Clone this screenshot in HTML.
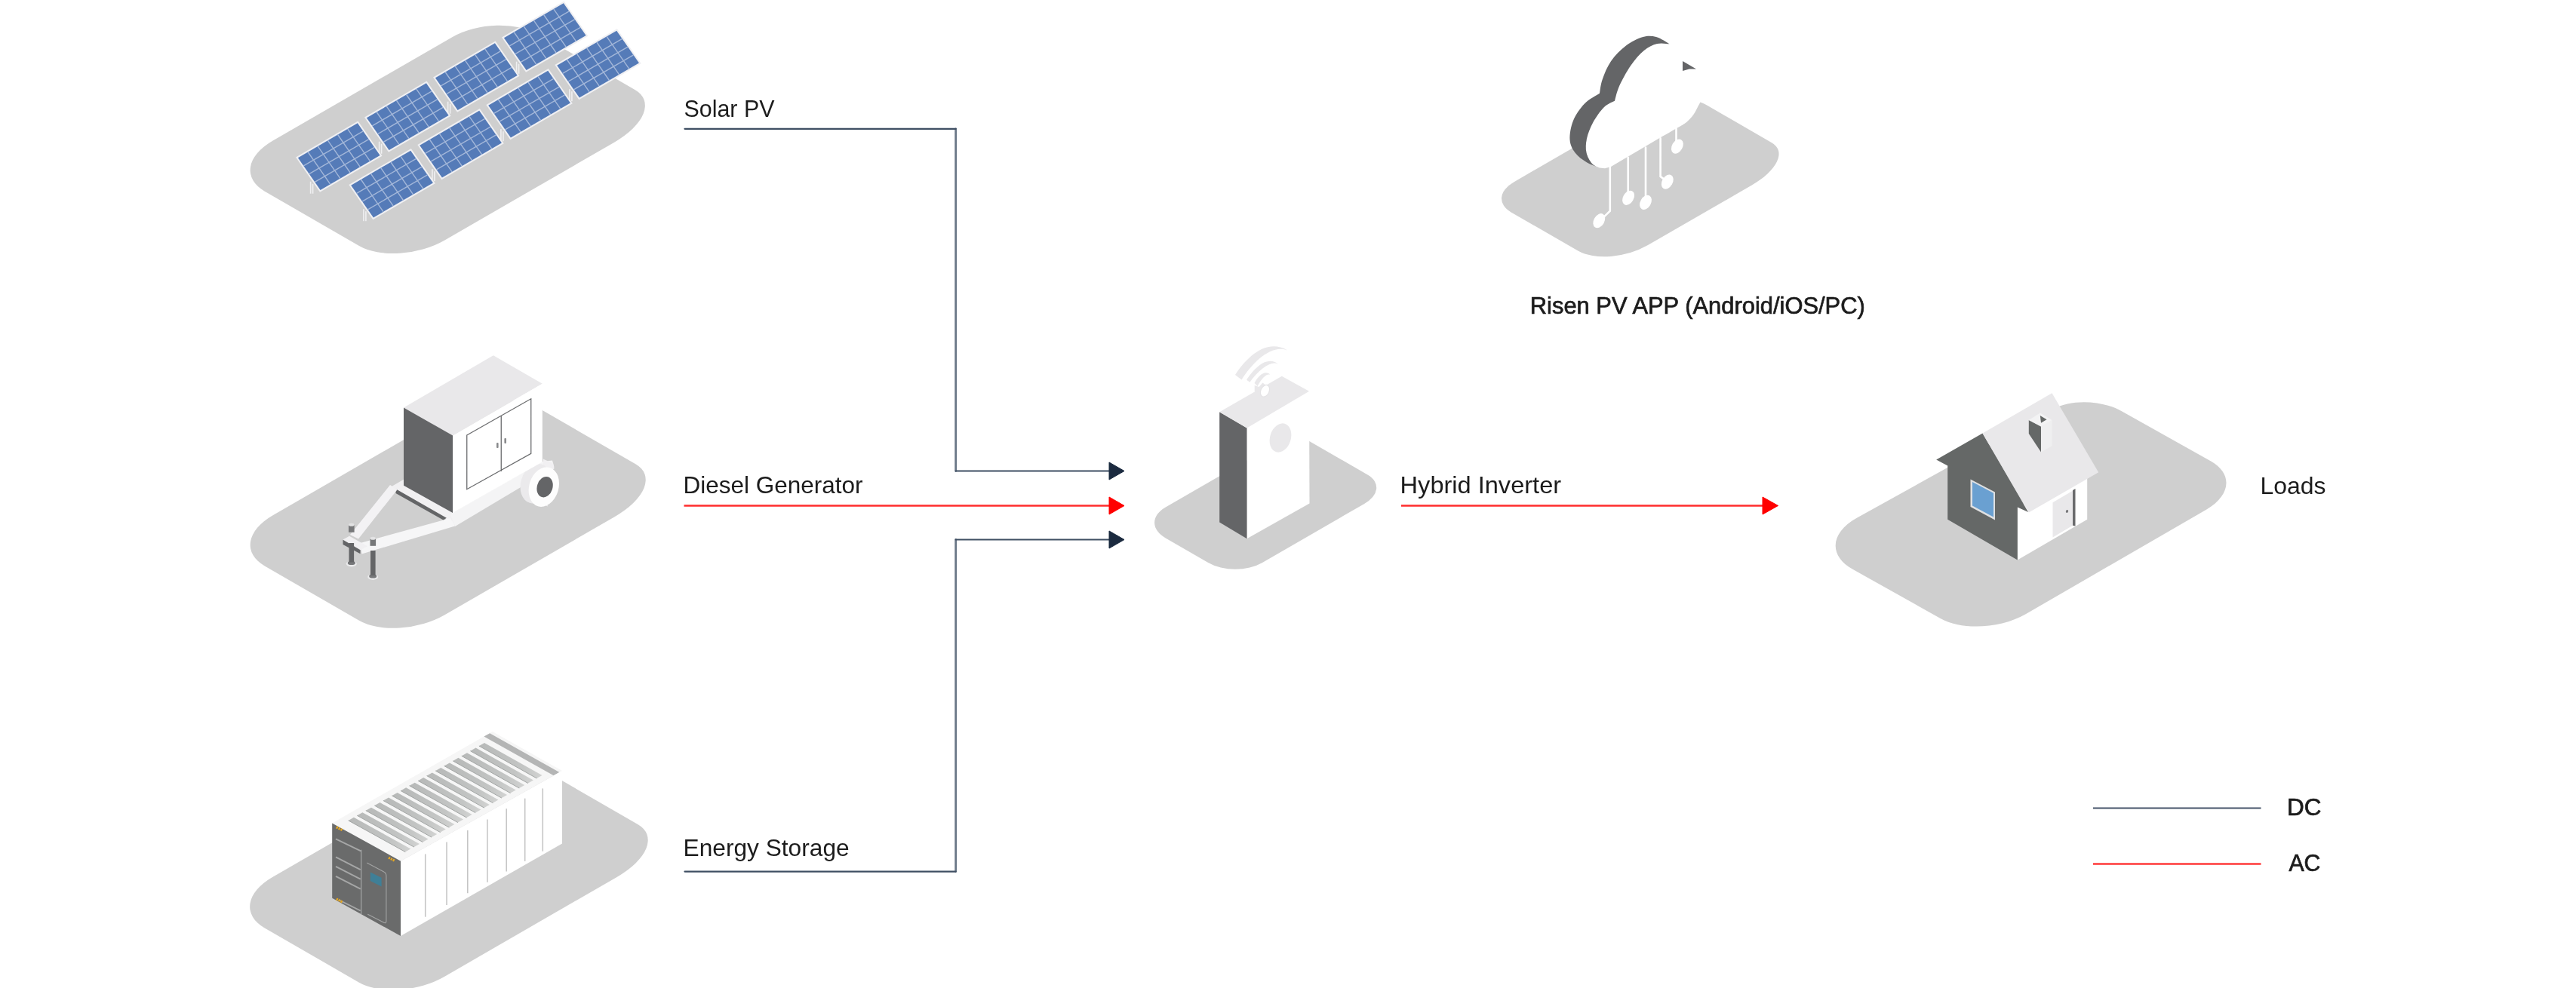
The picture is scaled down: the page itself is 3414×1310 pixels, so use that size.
<!DOCTYPE html>
<html lang="en">
<head>
<meta charset="utf-8">
<title>Hybrid inverter system diagram</title>
<style>
html,body{margin:0;padding:0;background:#ffffff;}
body{width:3414px;height:1310px;overflow:hidden;font-family:"Liberation Sans",sans-serif;}
svg{display:block;will-change:transform;}
</style>
</head>
<body>
<svg width="3414" height="1310" viewBox="0 0 3414 1310">
<defs>
<linearGradient id="roofg" x1="0" y1="0" x2="1" y2="0"><stop offset="0" stop-color="#b7b9b8"/><stop offset="0.7" stop-color="#c3c5c4"/><stop offset="1" stop-color="#d2d3d2"/></linearGradient>
</defs>
<rect width="3414" height="1310" fill="#ffffff"/>
<g id="platforms">
<path d="M73 0 L348 0 A70 64 0 0 1 418 64 L418 209.5 A86 54 0 0 1 332 263.5 L73 263.5 A73 58 0 0 1 0 205.5 L0 61 A73 61 0 0 1 73 0Z" fill="#cfcfcf" transform="matrix(0.866 -0.5 0.866 0.5 298 223.2)"/>
<path d="M73 0 L349 0 A70 64 0 0 1 419 64 L419 209.5 A86 54 0 0 1 333 263.5 L73 263.5 A73 58 0 0 1 0 205.5 L0 61 A73 61 0 0 1 73 0Z" fill="#cfcfcf" transform="matrix(0.866 -0.5 0.866 0.5 298 720)"/>
<path d="M73 0 L353 0 A70 64 0 0 1 423 64 L423 209.5 A86 54 0 0 1 337 263.5 L73 263.5 A73 58 0 0 1 0 205.5 L0 61 A73 61 0 0 1 73 0Z" fill="#cfcfcf" transform="matrix(0.866 -0.5 0.866 0.5 297.5 1199.7)"/>
<path d="M42 0 L241.6 0 A50 45 0 0 1 291.6 45 L291.6 145.3 A72 41 0 0 1 219.6 186.3 L61 186.3 A61 46 0 0 1 0 140.3 L0 38 A42 38 0 0 1 42 0Z" fill="#cfcfcf" transform="matrix(0.866 -0.5 0.866 0.5 1969.8 262.4)"/>
<path d="M41 0 L198.5 0 A40 18 0 0 1 238.5 18 L238.5 111.6 A41 36 0 0 1 197.5 147.6 L41 147.6 A41 41 0 0 1 0 106.6 L0 41 A41 41 0 0 1 41 0Z" fill="#cfcfcf" transform="matrix(0.866 -0.5 0.866 0.5 1509.3 692.9)"/>
<path d="M2460.8 686.7L2721.6 542.1C2745.3 529 2786 530.5 2812.4 545.4L2930.1 611.6C2959.5 628.1 2956.8 656.9 2924 675.8L2684.7 814.2C2651.2 833.5 2600.7 836.1 2571.7 819.9L2455.4 754.8C2423.1 736.7 2425.5 706.3 2460.8 686.7Z" fill="#cfcfcf"/>
</g>
<g id="solar">
<rect x="683.8" y="81.7" width="1.6" height="16" fill="#efeff1"/>
<rect x="686.8" y="84.7" width="1.6" height="13" fill="#efeff1"/>
<polygon points="665,49.5 747.5,1.5 779.5,47.7 697,95.7" fill="#f0f0f3"/>
<polygon points="667.9,50.2 746.9,4.2 776.6,47 697.6,93" fill="#557bb8"/>
<path d="M681.1 42.5L710.8 85.4M694.2 34.8L723.9 77.7M707.4 27.2L737.1 70M720.6 19.5L750.3 62.4M733.7 11.8L763.4 54.7M675.3 60.9L754.3 14.9M682.7 71.6L761.8 25.6M690.2 82.3L769.2 36.3" stroke="#a3b7d9" stroke-width="1.4" fill="none"/>
<rect x="592.8" y="134.7" width="1.6" height="16" fill="#efeff1"/>
<rect x="595.8" y="137.7" width="1.6" height="13" fill="#efeff1"/>
<polygon points="574,102.5 656.5,54.5 688.5,100.7 606,148.7" fill="#f0f0f3"/>
<polygon points="576.9,103.2 655.9,57.2 685.6,100 606.6,146" fill="#557bb8"/>
<path d="M590.1 95.5L619.8 138.4M603.2 87.8L632.9 130.7M616.4 80.2L646.1 123M629.6 72.5L659.3 115.4M642.7 64.8L672.4 107.7M584.3 113.9L663.3 67.9M591.7 124.6L670.8 78.6M599.2 135.3L678.2 89.3" stroke="#a3b7d9" stroke-width="1.4" fill="none"/>
<rect x="501.8" y="187.7" width="1.6" height="16" fill="#efeff1"/>
<rect x="504.8" y="190.7" width="1.6" height="13" fill="#efeff1"/>
<polygon points="483,155.5 565.5,107.5 597.5,153.7 515,201.7" fill="#f0f0f3"/>
<polygon points="485.9,156.2 564.9,110.2 594.6,153 515.6,199" fill="#557bb8"/>
<path d="M499.1 148.5L528.8 191.4M512.2 140.8L541.9 183.7M525.4 133.2L555.1 176M538.6 125.5L568.3 168.4M551.7 117.8L581.4 160.7M493.3 166.9L572.3 120.9M500.7 177.6L579.8 131.6M508.2 188.3L587.2 142.3" stroke="#a3b7d9" stroke-width="1.4" fill="none"/>
<rect x="410.8" y="240.7" width="1.6" height="16" fill="#efeff1"/>
<rect x="413.8" y="243.7" width="1.6" height="13" fill="#efeff1"/>
<polygon points="392,208.5 474.5,160.5 506.5,206.7 424,254.7" fill="#f0f0f3"/>
<polygon points="394.9,209.2 473.9,163.2 503.6,206 424.6,252" fill="#557bb8"/>
<path d="M408.1 201.5L437.8 244.4M421.2 193.8L450.9 236.7M434.4 186.2L464.1 229M447.6 178.5L477.3 221.4M460.7 170.8L490.4 213.7M402.3 219.9L481.3 173.9M409.7 230.6L488.8 184.6M417.2 241.3L496.2 195.3" stroke="#a3b7d9" stroke-width="1.4" fill="none"/>
<rect x="754.1" y="118.2" width="1.6" height="16" fill="#efeff1"/>
<rect x="757.1" y="121.2" width="1.6" height="13" fill="#efeff1"/>
<polygon points="735.3,86 817.8,38 849.8,84.2 767.3,132.2" fill="#f0f0f3"/>
<polygon points="738.2,86.7 817.2,40.7 846.9,83.5 767.9,129.5" fill="#557bb8"/>
<path d="M751.4 79L781.1 121.9M764.5 71.3L794.2 114.2M777.7 63.7L807.4 106.5M790.9 56L820.6 98.9M804 48.3L833.7 91.2M745.6 97.4L824.6 51.4M753 108.1L832.1 62.1M760.5 118.8L839.5 72.8" stroke="#a3b7d9" stroke-width="1.4" fill="none"/>
<rect x="663.1" y="171.2" width="1.6" height="16" fill="#efeff1"/>
<rect x="666.1" y="174.2" width="1.6" height="13" fill="#efeff1"/>
<polygon points="644.3,139 726.8,91 758.8,137.2 676.3,185.2" fill="#f0f0f3"/>
<polygon points="647.2,139.7 726.2,93.7 755.9,136.5 676.9,182.5" fill="#557bb8"/>
<path d="M660.4 132L690.1 174.9M673.5 124.3L703.2 167.2M686.7 116.7L716.4 159.5M699.9 109L729.6 151.9M713 101.3L742.7 144.2M654.6 150.4L733.6 104.4M662 161.1L741.1 115.1M669.5 171.8L748.5 125.8" stroke="#a3b7d9" stroke-width="1.4" fill="none"/>
<rect x="572.1" y="224.2" width="1.6" height="16" fill="#efeff1"/>
<rect x="575.1" y="227.2" width="1.6" height="13" fill="#efeff1"/>
<polygon points="553.3,192 635.8,144 667.8,190.2 585.3,238.2" fill="#f0f0f3"/>
<polygon points="556.2,192.7 635.2,146.7 664.9,189.5 585.9,235.5" fill="#557bb8"/>
<path d="M569.4 185L599.1 227.9M582.5 177.3L612.2 220.2M595.7 169.7L625.4 212.5M608.9 162L638.6 204.9M622 154.3L651.7 197.2M563.6 203.4L642.6 157.4M571 214.1L650.1 168.1M578.5 224.8L657.5 178.8" stroke="#a3b7d9" stroke-width="1.4" fill="none"/>
<rect x="481.1" y="277.2" width="1.6" height="16" fill="#efeff1"/>
<rect x="484.1" y="280.2" width="1.6" height="13" fill="#efeff1"/>
<polygon points="462.3,245 544.8,197 576.8,243.2 494.3,291.2" fill="#f0f0f3"/>
<polygon points="465.2,245.7 544.2,199.7 573.9,242.5 494.9,288.5" fill="#557bb8"/>
<path d="M478.4 238L508.1 280.9M491.5 230.3L521.2 273.2M504.7 222.7L534.4 265.5M517.9 215L547.6 257.9M531 207.3L560.7 250.2M472.6 256.4L551.6 210.4M480 267.1L559.1 221.1M487.5 277.8L566.5 231.8" stroke="#a3b7d9" stroke-width="1.4" fill="none"/>
</g>
<g id="generator">
<polygon points="519,645 536.2,635 602.5,675 602.5,698 590,688" fill="#f1f0f2"/>
<polygon points="524.5,648.2 591.8,686.8 587.5,689.5 524.5,654" fill="#646567"/>
<polygon points="517,643 526.5,649.2 475,714.5 464,709" fill="#f3f2f4"/>
<polygon points="477.5,720 597,687 603,697.5 479.5,734.5" fill="#f6f6f7"/>
<polygon points="597,682.5 600,679.5 718.8,612 732,610.5 734.5,619.5 603,698" fill="#f4f4f5"/>
<polygon points="454.5,715.5 463,710.8 487,724.2 477.5,729.2" fill="#f1f0f2"/>
<polygon points="454.5,715.8 477.5,729.2 477.5,734.2 454.5,722" fill="#646567"/>
<ellipse cx="465.8" cy="747.6" rx="7" ry="3.9" fill="#ebebec" transform="rotate(0 465.8 747.6)"/>
<ellipse cx="465.8" cy="746.4" rx="5" ry="2.6" fill="#77787a" transform="rotate(0 465.8 746.4)"/>
<rect x="462.5" y="720" width="6.6" height="25.5" fill="#646567"/>
<rect x="462" y="695.8" width="7.6" height="10" fill="#77787a"/>
<ellipse cx="465.8" cy="695.8" rx="3.8" ry="2" fill="#e2e2e3" transform="rotate(0 465.8 695.8)"/>
<ellipse cx="494.2" cy="765.1" rx="7" ry="3.9" fill="#ebebec" transform="rotate(0 494.2 765.1)"/>
<ellipse cx="494.2" cy="763.9" rx="5" ry="2.6" fill="#77787a" transform="rotate(0 494.2 763.9)"/>
<rect x="491" y="730" width="6.6" height="33" fill="#646567"/>
<rect x="490.5" y="713.8" width="7.6" height="10" fill="#77787a"/>
<ellipse cx="494.2" cy="713.8" rx="3.8" ry="2" fill="#e2e2e3" transform="rotate(0 494.2 713.8)"/>
<polygon points="719.8,608.5 733,614.5 734.5,621.5 728,625 719.8,619" fill="#f1f0f2"/>
<ellipse cx="709.8" cy="641.2" rx="19.5" ry="26.8" fill="#ebeaec" transform="rotate(17 709.8 641.2)"/>
<polygon points="704,615.5 715,620 726,671.5 715,667" fill="#ebeaec"/>
<ellipse cx="720.8" cy="645.7" rx="19.5" ry="26.8" fill="#fdfdfd" transform="rotate(17 720.8 645.7)"/>
<ellipse cx="722.1" cy="645.7" rx="10.3" ry="14" fill="#646567" transform="rotate(17 722.1 645.7)"/>
<polygon points="535,540.5 653.8,471.2 718.8,508.8 600,577.5" fill="#e9e8ea"/>
<polygon points="535,540.5 600,577.5 600,680 535,643.8" fill="#646567"/>
<polygon points="600,577.5 718.8,508.8 718.8,612.5 600,680" fill="#ffffff"/>
<path d="M618.75 577L703.75 528.75L703.75 601.25L618.75 648.75ZM664.25 551.25L664.25 625" stroke="#6b6c6e" stroke-width="1.3" fill="none"/>
<rect x="658" y="587" width="2.6" height="7" rx="1" fill="#8a8b8d"/>
<rect x="668.4" y="581" width="2.6" height="7" rx="1" fill="#8a8b8d"/>
</g>
<g id="container">
<polygon points="440.2,1091.5 652.7,970.1 745,1022 531,1141.7" fill="#f6f6f6"/>
<polygon points="461.7,1087.9 468.9,1083.8 544.3,1125.6 537.2,1129.6" fill="url(#roofg)"/>
<polygon points="473.3,1081.3 480.4,1077.2 556,1119.1 548.8,1123.1" fill="url(#roofg)"/>
<polygon points="484.8,1074.7 492,1070.7 567.6,1112.6 560.4,1116.6" fill="url(#roofg)"/>
<polygon points="496.4,1068.1 503.5,1064.1 579.2,1106.1 572,1110.1" fill="url(#roofg)"/>
<polygon points="507.9,1061.5 515,1057.5 590.8,1099.6 583.6,1103.6" fill="url(#roofg)"/>
<polygon points="519.5,1055 526.6,1050.9 602.4,1093.1 595.3,1097.1" fill="url(#roofg)"/>
<polygon points="531,1048.4 538.1,1044.3 614,1086.6 606.9,1090.6" fill="url(#roofg)"/>
<polygon points="542.6,1041.8 549.7,1037.7 625.6,1080.1 618.5,1084.1" fill="url(#roofg)"/>
<polygon points="554.1,1035.2 561.2,1031.1 637.3,1073.6 630.1,1077.6" fill="url(#roofg)"/>
<polygon points="565.6,1028.6 572.8,1024.6 648.9,1067.1 641.7,1071.1" fill="url(#roofg)"/>
<polygon points="577.2,1022 584.3,1018 660.5,1060.6 653.3,1064.6" fill="url(#roofg)"/>
<polygon points="588.7,1015.5 595.9,1011.4 672.1,1054 664.9,1058.1" fill="url(#roofg)"/>
<polygon points="600.3,1008.9 607.4,1004.8 683.7,1047.5 676.5,1051.6" fill="url(#roofg)"/>
<polygon points="611.8,1002.3 619,998.2 695.3,1041 688.2,1045" fill="url(#roofg)"/>
<polygon points="623.4,995.7 630.5,991.6 706.9,1034.5 699.8,1038.5" fill="url(#roofg)"/>
<polygon points="634.9,989.1 642,985.1 718.5,1028 711.4,1032" fill="url(#roofg)"/>
<path d="M461.7 1087.9L537.2 1129.6M473.3 1081.3L548.8 1123.1M484.8 1074.7L560.4 1116.6M496.4 1068.1L572 1110.1M507.9 1061.5L583.6 1103.6M519.5 1055L595.3 1097.1M531 1048.4L606.9 1090.6M542.6 1041.8L618.5 1084.1M554.1 1035.2L630.1 1077.6M565.6 1028.6L641.7 1071.1M577.2 1022L653.3 1064.6M588.7 1015.5L664.9 1058.1M600.3 1008.9L676.5 1051.6M611.8 1002.3L688.2 1045M623.4 995.7L699.8 1038.5M634.9 989.1L711.4 1032" stroke="#a2a5a4" stroke-width="1" fill="none"/>
<polygon points="641.4,976.5 649.1,972.2 741.4,1024 733.7,1028.3" fill="#b4b5b5"/>
<polygon points="440.2,1091.5 531,1141.7 531,1241 440.2,1190.8" fill="#6a6b6b"/>
<polygon points="531,1141.7 745,1022 745,1118.5 531,1241" fill="#ffffff"/>
<line x1="563.7" y1="1132.4" x2="563.7" y2="1215.7" stroke="#c3c3c3" stroke-width="1.5"/>
<line x1="592" y1="1116.6" x2="592" y2="1199.9" stroke="#c3c3c3" stroke-width="1.5"/>
<line x1="619.8" y1="1101" x2="619.8" y2="1184.3" stroke="#c3c3c3" stroke-width="1.5"/>
<line x1="645.9" y1="1086.4" x2="645.9" y2="1169.7" stroke="#c3c3c3" stroke-width="1.5"/>
<line x1="671.2" y1="1072.3" x2="671.2" y2="1155.6" stroke="#c3c3c3" stroke-width="1.5"/>
<line x1="695.7" y1="1058.6" x2="695.7" y2="1141.9" stroke="#c3c3c3" stroke-width="1.5"/>
<line x1="719.3" y1="1045.4" x2="719.3" y2="1128.7" stroke="#c3c3c3" stroke-width="1.5"/>
<line x1="445" y1="1112.3" x2="478.7" y2="1128.7" stroke="#a6a7a7" stroke-width="1.9"/>
<line x1="445" y1="1136.3" x2="477.7" y2="1153.1" stroke="#a6a7a7" stroke-width="1.9"/>
<line x1="445" y1="1148.8" x2="477.7" y2="1165.6" stroke="#a6a7a7" stroke-width="1.9"/>
<line x1="445" y1="1161.9" x2="477.7" y2="1178.7" stroke="#a6a7a7" stroke-width="1.9"/>
<line x1="448.8" y1="1193.1" x2="477.7" y2="1207.5" stroke="#a6a7a7" stroke-width="1.9"/>
<line x1="478.7" y1="1126.7" x2="478.7" y2="1212.3" stroke="#a6a7a7" stroke-width="1.2"/>
<path d="M486.3 1144L508.8 1156Q511.9 1157.5 511.9 1161.3L511.9 1221Q511.9 1224.8 508.8 1223.3L487.3 1212.3" stroke="#a3a4a4" stroke-width="1.1" fill="none"/>
<polygon points="490.8,1156.5 505.6,1163.8 505.6,1175.4 490.8,1168.1" fill="#3f7f97"/>
<path d="M445.8 1096.8l8 4" stroke="#e5a823" stroke-width="3.2" stroke-dasharray="2.2 1"/>
<path d="M515 1137.2l8 4" stroke="#e5a823" stroke-width="3.2" stroke-dasharray="2.2 1"/>
<path d="M445.8 1192l8 4" stroke="#e5a823" stroke-width="3.2" stroke-dasharray="2.2 1"/>
</g>
<g id="cloud">
<path d="M2212.5 58.2C2209.8 58.2 2201.9 56.5 2196.2 58C2190.6 59.5 2184.6 62.2 2178.8 67C2172.9 71.8 2166.7 79.2 2161.2 87C2155.8 94.8 2149.8 106 2146.2 113.8C2142.7 121.5 2141 130.4 2140 133.8C2137.6 135.2 2130.3 137.7 2125.5 142.5C2120.7 147.3 2115 155.6 2111.2 162.5C2107.5 169.4 2104.5 177.1 2103 183.8C2101.5 190.4 2101.3 197 2102.5 202.5C2103.7 208 2107.1 213.7 2110 217C2112.9 220.3 2118.3 221.6 2120 222.5L2127 223.2L2135 221L2202 181.6C2205.6 179.6 2217.8 172.6 2223.4 169.3C2229 166 2231.9 164.6 2235.5 161.7C2239.1 158.8 2242.2 155.1 2244.7 151.6C2247.2 148.1 2249.1 143.4 2250.7 140.5C2252.2 137.6 2252.9 137.1 2254 134C2255.1 130.9 2257.2 127 2257.5 122C2257.8 117 2257.6 109.7 2256 104C2254.4 98.3 2251.3 92.7 2248 88C2244.7 83.3 2238 78 2236 76Z" fill="#ffffff"/>
<path d="M2120 222.5C2117.1 221.2 2107.9 218.3 2102.5 215C2097.1 211.7 2091.2 207.5 2087.5 202.5C2083.8 197.5 2080.9 192.1 2080.5 185C2080.1 177.9 2081.8 167.9 2085 160C2088.2 152.1 2094.2 143.5 2100 137.5C2105.8 131.5 2116.7 126 2120 123.8C2120.6 120.6 2121.2 112.1 2123.8 105C2126.2 97.9 2129.8 88.7 2135 81.2C2140.2 73.8 2147.9 65.9 2155 60.5C2162.1 55.1 2170.8 50.9 2177.5 49C2184.2 47.1 2189.2 47.5 2195 49C2200.8 50.5 2209.6 56.7 2212.5 58.2C2209.8 58.2 2201.9 56.5 2196.2 58C2190.6 59.5 2184.6 62.2 2178.8 67C2172.9 71.8 2166.7 79.2 2161.2 87C2155.8 94.8 2149.8 106 2146.2 113.8C2142.7 121.5 2141 130.4 2140 133.8C2137.6 135.2 2130.3 137.7 2125.5 142.5C2120.7 147.3 2115 155.6 2111.2 162.5C2107.5 169.4 2104.5 177.1 2103 183.8C2101.5 190.4 2101.3 197 2102.5 202.5C2103.7 208 2107.1 213.7 2110 217C2112.9 220.3 2118.3 221.6 2120 222.5Z" fill="#646567"/>
<polygon points="2230,81 2248,91.5 2238.8,91.5 2230,94" fill="#646567"/>
<path d="M2133.8 219.8L2133.8 279.6L2125.7 287.7M2157.7 208.7L2157.7 255.3M2181 195.5L2181 260.3M2200.6 183.4L2200.6 234L2205.1 237.4M2221.5 170.2L2221.5 187.4" stroke="#ffffff" stroke-width="2.6" fill="none" stroke-linecap="round"/>
<ellipse cx="2119.3" cy="292.7" rx="7" ry="10.3" fill="#ffffff" transform="rotate(30 2119.3 292.7)"/>
<ellipse cx="2158.1" cy="262.3" rx="7" ry="10.3" fill="#ffffff" transform="rotate(30 2158.1 262.3)"/>
<ellipse cx="2181" cy="268.4" rx="7" ry="10.3" fill="#ffffff" transform="rotate(30 2181 268.4)"/>
<ellipse cx="2209.8" cy="241.1" rx="7" ry="10.3" fill="#ffffff" transform="rotate(30 2209.8 241.1)"/>
<ellipse cx="2222.9" cy="194.1" rx="7" ry="10.3" fill="#ffffff" transform="rotate(30 2222.9 194.1)"/>
</g>
<g id="inverter">
<polygon points="1652.5,567.5 1735,518.8 1735.5,667.5 1652.5,714.2" fill="#ffffff"/>
<polygon points="1616.2,546.2 1652.5,567.5 1652.5,714.2 1616.2,692.5" fill="#646567"/>
<polygon points="1616.2,546.2 1698.8,498.8 1735,518.8 1652.5,567.5" fill="#e9e8ea"/>
<ellipse cx="1697" cy="580.5" rx="13.8" ry="19.6" fill="#e9e8ea" transform="rotate(17 1697 580.5)"/>
<path d="M1637 497.1C1650.4 476.4 1677.1 447.3 1706.4 464.5C1685.6 455.8 1660.1 480.1 1645.5 503.4Z" fill="#e9e8ea"/>
<path d="M1652.2 503.7C1661.3 489.8 1678.3 470.4 1694.3 482.7C1684.4 477.6 1668.6 489.8 1656.4 506.8Z" fill="#e9e8ea"/>
<path d="M1662.5 508C1666.7 499.5 1675.9 489.8 1683.4 496.7C1678.3 494.6 1671 503.1 1666.7 511.9Z" fill="#e9e8ea"/>
<polygon points="1662.7,511 1668.6,512.9 1673.4,507.4 1677.1,510.4 1671,520.1 1662.7,518.9" fill="#e9e8ea"/>
<ellipse cx="1676.5" cy="518.3" rx="5.6" ry="8.2" fill="#ffffff" transform="rotate(25 1676.5 518.3)" stroke="#e4e3e5" stroke-width="1.2"/>
</g>
<g id="house">
<polygon points="2673.8,672.5 2766.2,618.8 2766.2,688.8 2673.8,742.5" fill="#ffffff"/>
<polygon points="2720.5,666.2 2747,650.8 2747,696.8 2720.5,712.5" fill="#e9e8ea"/>
<polygon points="2747,650 2750.5,648 2750.5,697.5 2747,696.8" fill="#6a6b6d"/>
<ellipse cx="2739.5" cy="678" rx="1.6" ry="2" fill="#77787a" transform="rotate(20 2739.5 678)"/>
<polygon points="2566.2,609.5 2627.5,574.5 2688,679 2673.8,672.5 2673.8,742.5 2581.2,688.8 2581.2,617.5" fill="#656867"/>
<polygon points="2611.5,635.5 2644,652.5 2644,689.5 2611.5,672" fill="#dfe0e2"/>
<polygon points="2614,639 2642,653.8 2642,685.5 2614,670.5" fill="#6aa0d1"/>
<polygon points="2627.5,574.5 2719.5,521.2 2781.2,626.2 2688.8,679.5" fill="#e9e8ea"/>
<polygon points="2688.8,557 2705,565.5 2705,599.5 2688.8,575" fill="#656867"/>
<polygon points="2705,565.5 2719.5,557 2719.5,591.2 2705,599.5" fill="#efeff0"/>
<polygon points="2688.8,557 2703.8,547.5 2719.5,557 2705,565.5" fill="#f3f3f4"/>
<polygon points="2703.8,551 2712.5,556.2 2705,560.8" fill="#656867"/>
</g>
<g id="wires" fill="none">
<path d="M1266.7 170.8V624.5M1266.7 715.5V1155.6" stroke="#6a7787" stroke-width="2.8" stroke-linecap="round"/>
<path d="M907.5 170.8H1266.7M1266.7 624.5H1471M1266.7 715.5H1471M907.5 1155.6H1266.7" stroke="#3f4f63" stroke-width="2.2" stroke-linecap="round"/>
<path d="M906.5 670.5H1471" stroke="#ff2d2d" stroke-width="2.4"/>
<path d="M1857 670.5H2337" stroke="#ff2d2d" stroke-width="2.4"/>
<path d="M1470 613L1490 624.5L1470 636Z" fill="#1b2a3f" stroke="#1b2a3f" stroke-width="1" stroke-linejoin="round"/>
<path d="M1470 704L1490 715.5L1470 727Z" fill="#1b2a3f" stroke="#1b2a3f" stroke-width="1" stroke-linejoin="round"/>
<path d="M1470 659L1490 670.5L1470 682Z" fill="#ff0000" stroke="#ff0000" stroke-width="1" stroke-linejoin="round"/>
<path d="M2336 659L2356.5 670.5L2336 682Z" fill="#ff0000" stroke="#ff0000" stroke-width="1" stroke-linejoin="round"/>
<path d="M2774 1071.5H2996.5" stroke="#46556a" stroke-width="2.2"/>
<path d="M2774 1145.5H2996.5" stroke="#ff3a3a" stroke-width="2.4"/>
</g>
<g id="labels" font-family="&quot;Liberation Sans&quot;, sans-serif" font-size="30.5" fill="#1c1c1c">
<text x="906.5" y="155.3" textLength="120" lengthAdjust="spacingAndGlyphs">Solar PV</text>
<text x="905.6" y="654.2" textLength="238" lengthAdjust="spacingAndGlyphs">Diesel Generator</text>
<text x="905.6" y="1134.6" textLength="220" lengthAdjust="spacingAndGlyphs">Energy Storage</text>
<text x="1855.6" y="654.2" textLength="213.5" lengthAdjust="spacingAndGlyphs">Hybrid Inverter</text>
<text x="2995.6" y="654.5" textLength="87" lengthAdjust="spacingAndGlyphs">Loads</text>
<text x="2027.8" y="415.5" textLength="444" lengthAdjust="spacingAndGlyphs" stroke="#1c1c1c" stroke-width="0.7">Risen PV APP (Android/iOS/PC)</text>
<text x="3031" y="1080.5" textLength="45.5" lengthAdjust="spacingAndGlyphs" stroke="#1c1c1c" stroke-width="0.7">DC</text>
<text x="3033.4" y="1155" textLength="42" lengthAdjust="spacingAndGlyphs" stroke="#1c1c1c" stroke-width="0.7">AC</text>
</g>
</svg>
</body>
</html>
